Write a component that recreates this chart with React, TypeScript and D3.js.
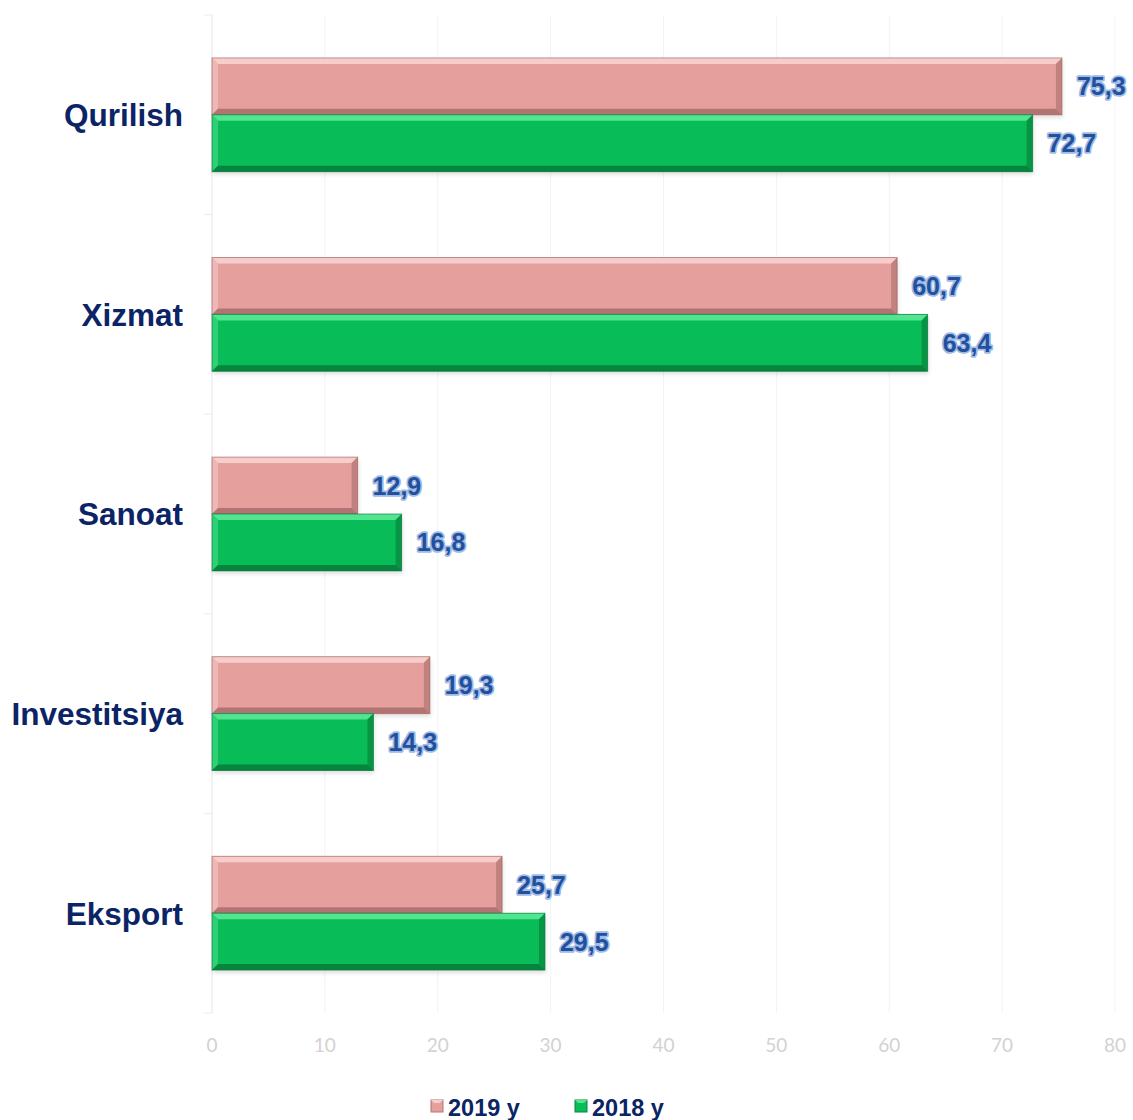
import React from "react";
import * as d3 from "d3";

const categories = ["Qurilish", "Xizmat", "Sanoat", "Investitsiya", "Eksport"];
const values2019 = [75.3, 60.7, 12.9, 19.3, 25.7];
const values2018 = [72.7, 63.4, 16.8, 14.3, 29.5];
const xTicks = [0, 10, 20, 30, 40, 50, 60, 70, 80];
const seriesNames = ["2019 y", "2018 y"];

const W = 1133;
const H = 1120;
const plot = { left: 212, right: 1115, top: 15, bottom: 1013 };

const seriesStyle = [
  { base: "#e5a09e", light: "#f6cdcb", dark: "#b27472", edge: "#9a5e5c" },
  { base: "#08bd58", light: "#52e48f", dark: "#07843d", edge: "#06733a" },
];

function Bar({ x, y, w, h, s }: any) {
  const b = Math.min(6, w / 2, h / 2);
  return (
    <g>
      <rect x={x + 1} y={y + 3} width={w} height={h} fill="#000" opacity={0.12} filter={`url(#blur)`} />
      <rect x={x} y={y} width={w} height={h} fill={s.base} />
      <polygon points={`${x},${y} ${x + w},${y} ${x + w - b},${y + b} ${x + b},${y + b}`} fill={s.light} />
      <polygon points={`${x},${y} ${x + b},${y + b} ${x + b},${y + h - b} ${x},${y + h}`} fill={s.light} opacity={0.5} />
      <polygon points={`${x + w},${y} ${x + w},${y + h} ${x + w - b},${y + h - b} ${x + w - b},${y + b}`} fill={s.dark} opacity={0.7} />
      <polygon points={`${x},${y + h} ${x + w},${y + h} ${x + w - b},${y + h - b} ${x + b},${y + h - b}`} fill={s.dark} />
      <rect x={x} y={y} width={w} height={h} fill="none" stroke={s.edge} strokeWidth={1} opacity={0.6} />
    </g>
  );
}

export default function App() {
  const x = d3.scaleLinear().domain([0, 80]).range([plot.left, plot.right]);
  const y = d3
    .scaleBand<string>()
    .domain(categories)
    .range([plot.top, plot.bottom])
    .paddingInner(0.43)
    .paddingOuter(0.215);
  const bw = y.bandwidth() / 2;
  const step = y.step();
  const boundaries = d3.range(categories.length + 1).map((i) => plot.top + i * step);

  const series = [values2019, values2018];

  return (
    <svg width={W} height={H} style={{ position: "absolute", left: 0, top: 0, background: "#fff" }}>
      <defs>
        <filter id="blur" x="-10%" y="-20%" width="120%" height="140%">
          <feGaussianBlur stdDeviation="2" />
        </filter>
      </defs>
      {xTicks.map((t) => (
        <line key={t} x1={x(t)} x2={x(t)} y1={plot.top} y2={plot.bottom} stroke="#f3f3f3" strokeWidth={1} />
      ))}
      <line x1={plot.left} x2={plot.left} y1={plot.top} y2={plot.bottom} stroke="#ececec" />
      {boundaries.map((b, i) => (
        <line key={i} x1={plot.left - 8} x2={plot.left} y1={b} y2={b} stroke="#ececec" />
      ))}
      {categories.map((c, i) => {
        const y0 = y(c)!;
        return (
          <g key={c}>
            {series.map((vals, si) => {
              const by = y0 + si * bw;
              const bx = x(0);
              const bwid = x(vals[i]) - x(0);
              return (
                <g key={si}>
                  <Bar x={bx} y={by} w={bwid} h={bw} s={seriesStyle[si]} />
                  <text
                    x={x(vals[i]) + 15}
                    y={by + bw / 2}
                    dy="0.36em"
                    fontFamily="Liberation Sans, Arial, sans-serif"
                    fontWeight="bold"
                    fontSize={25}
                    fill="#22509c"
                    stroke="#9fbbe6"
                    strokeWidth={3.5}
                    paintOrder="stroke"
                    strokeLinejoin="round"
                  >
                    {vals[i].toFixed(1).replace(".", ",")}
                  </text>
                </g>
              );
            })}
            <text
              x={183}
              y={y0 + y.bandwidth() / 2}
              dy="0.36em"
              textAnchor="end"
              fontFamily="Liberation Sans, Arial, sans-serif"
              fontWeight="bold"
              fontSize={31.5}
              fill="#0b2466"
            >
              {c}
            </text>
          </g>
        );
      })}
      {xTicks.map((t) => (
        <text
          key={t}
          x={x(t)}
          y={1045}
          dy="0.36em"
          textAnchor="middle"
          fontFamily="Lato, Carlito, sans-serif"
          fontSize={19}
          fill="#d2d2d2"
        >
          {t}
        </text>
      ))}
      {seriesNames.map((n, i) => {
        const lx = [431, 575][i];
        const s = seriesStyle[i];
        return (
          <g key={n}>
            <rect x={lx} y={1100} width={12} height={12} fill={s.base} stroke={s.dark} strokeWidth={1} />
            <polygon points={`${lx},${1100} ${lx + 12},${1100} ${lx + 9},${1103} ${lx + 3},${1103}`} fill={s.light} />
            <text
              x={lx + 17}
              y={1116}
              fontFamily="Liberation Sans, Arial, sans-serif"
              fontWeight="bold"
              fontSize={23.5}
              fill="#0b2466"
            >
              {n}
            </text>
          </g>
        );
      })}
    </svg>
  );
}
